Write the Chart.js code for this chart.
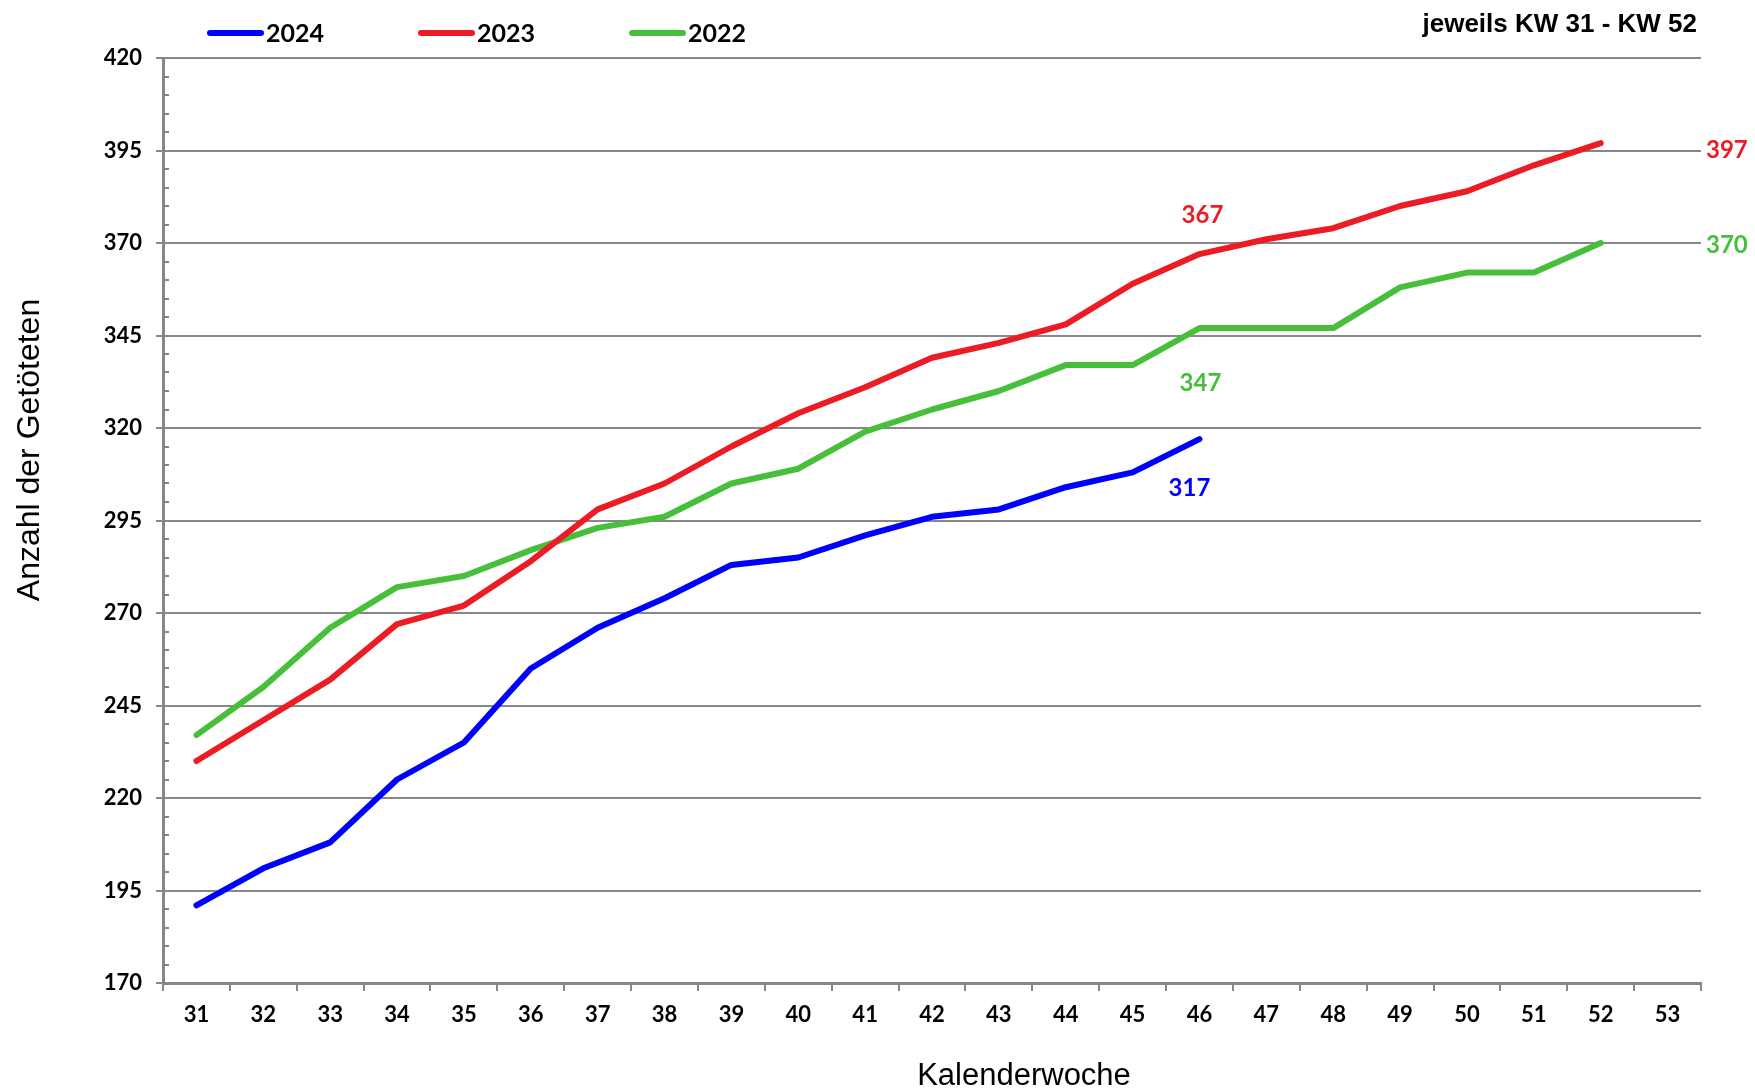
<!DOCTYPE html>
<html>
<head>
<meta charset="utf-8">
<script src="https://cdn.jsdelivr.net/npm/chart.js@4/dist/chart.umd.min.js"></script>
<style>
  html, body { margin: 0; padding: 0; background: #fff; }
  #wrap { width: 1755px; height: 1091px; }
</style>
</head>
<body>
<div id="wrap"><canvas id="killChart" width="1755" height="1091"></canvas></div>
<script>
// Kalenderwochen (x axis)
const weeks = ['31','32','33','34','35','36','37','38','39','40','41','42','43','44','45','46','47','48','49','50','51','52','53'];

// cumulative counts per week
const kills2024 = [191, 201, 208, 225, 235, 255, 266, 274, 283, 285, 291, 296, 298, 304, 308, 317];
const kills2023 = [230, 241, 252, 267, 272, 284, 298, 305, 315, 324, 331, 339, 343, 348, 359, 367, 371, 374, 380, 384, 391, 397];
const kills2022 = [237, 250, 266, 277, 280, 287, 293, 296, 305, 309, 319, 325, 330, 337, 337, 347, 347, 347, 358, 362, 362, 370];

const yTicks = [170, 195, 220, 245, 270, 295, 320, 345, 370, 395, 420];

const BLUE = '#0000ff';
const RED = '#ec1c24';
const GREEN = '#47bf3b';
const GRID = '#878787';
const LABEL_FONT = 'Lato, "Liberation Sans", sans-serif';

// value labels: dataset index, point index, where to put it
const valueLabels = [
    { ds: 1, idx: 15, dx: 3, dy: -39, align: 'center' },
    { ds: 2, idx: 15, dx: 1, dy: 55, align: 'center' },
    { ds: 0, idx: 15, dx: -10, dy: 49, align: 'center' },
    { ds: 1, idx: 21, right: true, dy: 7 },
    { ds: 2, idx: 21, right: true, dy: 2 },
];

const extras = {
    id: 'extras',
    beforeDatasetsDraw(chart) {
        const ctx = chart.ctx;
        const y = chart.scales.y;
        const left = chart.chartArea.left;
        // small ticks every 5 on the inside of the y axis
        ctx.save();
        ctx.strokeStyle = GRID;
        ctx.lineWidth = 2;
        for (let v = y.min; v <= y.max; v += 5) {
            if ((v - y.min) % 25 === 0) continue;
            const py = Math.round(y.getPixelForValue(v));
            ctx.beginPath();
            ctx.moveTo(left, py);
            ctx.lineTo(left + 6, py);
            ctx.stroke();
        }
        ctx.restore();
    },
    afterDraw(chart) {
        const ctx = chart.ctx;
        const area = chart.chartArea;
        ctx.save();

        // legend
        ctx.font = 'bold 25px ' + LABEL_FONT;
        ctx.textBaseline = 'middle';
        ctx.textAlign = 'left';
        ctx.lineCap = 'round';
        chart.data.datasets.forEach((ds, i) => {
            const x0 = 210 + i * 211;
            ctx.strokeStyle = ds.borderColor;
            ctx.lineWidth = 6;
            ctx.beginPath();
            ctx.moveTo(x0, 33);
            ctx.lineTo(x0 + 51, 33);
            ctx.stroke();
            ctx.fillStyle = '#000';
            ctx.fillText(ds.label, x0 + 56, 34);
        });

        // note top right
        ctx.font = 'bold 26px "Liberation Sans", Arial, sans-serif';
        ctx.textAlign = 'right';
        ctx.textBaseline = 'alphabetic';
        ctx.fillText('jeweils KW 31 - KW 52', 1697, 32);

        // axis titles
        ctx.font = '31px "Liberation Sans", Arial, sans-serif';
        ctx.textAlign = 'center';
        ctx.textBaseline = 'middle';
        ctx.fillText('Kalenderwoche', 1024, 1076);
        ctx.save();
        ctx.translate(30, 450);
        ctx.rotate(-Math.PI / 2);
        ctx.font = '32px "Liberation Sans", Arial, sans-serif';
        ctx.fillText('Anzahl der Getöteten', 0, 0);
        ctx.restore();

        // value labels
        ctx.font = 'bold 24px ' + LABEL_FONT;
        ctx.textBaseline = 'middle';
        valueLabels.forEach(l => {
            const ds = chart.data.datasets[l.ds];
            const pt = chart.getDatasetMeta(l.ds).data[l.idx];
            ctx.fillStyle = ds.borderColor;
            if (l.right) {
                ctx.textAlign = 'left';
                ctx.fillText(String(ds.data[l.idx]), area.right + 5, pt.y + l.dy);
            } else {
                ctx.textAlign = l.align;
                ctx.fillText(String(ds.data[l.idx]), pt.x + l.dx, pt.y + l.dy);
            }
        });
        ctx.restore();
    }
};

function lineSet(label, data, color) {
    return {
        label: label,
        data: data,
        borderColor: color,
        backgroundColor: color,
        borderWidth: 6,
        borderCapStyle: 'round',
        borderJoinStyle: 'round',
        pointRadius: 0,
        tension: 0,
        fill: false,
    };
}

new Chart(document.getElementById('killChart').getContext('2d'), {
    type: 'line',
    data: {
        labels: weeks,
        datasets: [
            lineSet('2024', kills2024, BLUE),
            lineSet('2023', kills2023, RED),
            lineSet('2022', kills2022, GREEN),
        ],
    },
    options: {
        responsive: false,
        animation: false,
        devicePixelRatio: 1,
        layout: { padding: { top: 58, right: 54, left: 0, bottom: 0 } },
        plugins: {
            legend: { display: false },
            title: { display: false },
            tooltip: { enabled: false },
        },
        scales: {
            x: {
                type: 'category',
                offset: true,
                grid: {
                    offset: true,
                    drawOnChartArea: false,
                    drawTicks: true,
                    tickLength: 8,
                    color: GRID,
                    lineWidth: 2,
                },
                border: { color: GRID, width: 3 },
                ticks: {
                    color: '#000',
                    padding: 11,
                    maxRotation: 0,
                    autoSkip: false,
                    font: { family: LABEL_FONT, size: 22, weight: 'bold' },
                },
                afterFit(scale) { scale.height = 108; },
            },
            y: {
                min: 170,
                max: 420,
                afterBuildTicks(scale) { scale.ticks = yTicks.map(v => ({ value: v })); },
                grid: {
                    color: GRID,
                    lineWidth: 2,
                    tickLength: 7,
                },
                border: { color: GRID, width: 3 },
                ticks: {
                    color: '#000',
                    padding: 14,
                    font: { family: LABEL_FONT, size: 22, weight: 'bold' },
                },
                afterFit(scale) { scale.width = 163; },
            },
        },
    },
    plugins: [extras],
});
</script>
</body>
</html>
